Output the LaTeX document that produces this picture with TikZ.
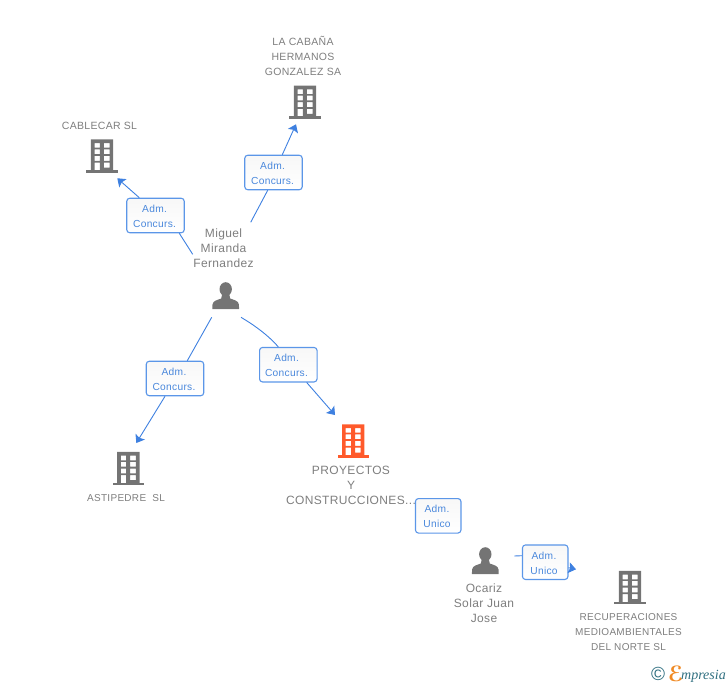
\documentclass[tikz,border=0pt]{standalone}
\usepackage{fontspec}
\setmainfont{Liberation Sans}
\newfontfamily\labfont[LetterSpace=3]{Liberation Sans}
\newfontfamily\logofont{Liberation Serif}
\newfontfamily\logoscript{DejaVu Sans}
\usetikzlibrary{arrows.meta}
\definecolor{lineblue}{HTML}{3E80E0}
\definecolor{boxblue}{HTML}{5B96E8}
\definecolor{txtblue}{HTML}{4A88DC}
\definecolor{lblgrey}{HTML}{7E7E7E}
\definecolor{icongrey}{HTML}{747474}
\definecolor{iconorange}{HTML}{FF5A2B}
\definecolor{logoteal}{HTML}{2F6F80}
\definecolor{logoorange}{HTML}{F08A24}
\tikzset{
  x=1pt,y=-1pt,
  role/.style={draw=boxblue,line width=1.1pt,rounded corners=3pt,top color=black!3,bottom color=white,
    minimum height=34.5pt,inner sep=0pt,text=txtblue,align=center,
    font=\labfont\fontsize{10.2}{15}\selectfont},
  rolewide/.style={role,minimum width=57.5pt},
  rolenarrow/.style={role,minimum width=45.5pt},
  rolelabel/.style={inner sep=0pt,text=txtblue,align=center,
    font=\labfont\fontsize{10.2}{15}\selectfont},
  lnk/.style={draw=lineblue,line width=0.9pt},
  lnkarrow/.style={lnk,-{Stealth[length=7.5pt,width=11pt,inset=1.5pt]}},
  bigname/.style={text=lblgrey,align=center,inner sep=0pt,
    font=\labfont\fontsize{12}{15}\selectfont},
  smallname/.style={text=lblgrey,align=center,inner sep=0pt,
    font=\labfont\fontsize{10.5}{15}\selectfont},
  tinyname/.style={text=lblgrey,align=center,inner sep=0pt,
    font=\labfont\fontsize{10}{15}\selectfont},
  pics/building/.style={code={
    \fill[#1,even odd rule]
      (-11.2,-2) rectangle (11.2,-33.4)
      (-7.5,-29.6) rectangle (-2.1,-25)
      (1.9,-29.6) rectangle (7.5,-25)
      (-7.5,-23.4) rectangle (-2.1,-18.6)
      (1.9,-23.4) rectangle (7.5,-18.6)
      (-7.5,-16.8) rectangle (-2.1,-11.9)
      (1.9,-16.8) rectangle (7.5,-11.9)
      (-7.5,-10.1) rectangle (-2.1,-2)
      (1.9,-10.1) rectangle (7.5,-5.2);
    \fill[#1] (-15.7,-2.7) rectangle (15.7,0);
  }},
  pics/person/.style={code={
    \fill[icongrey] (0,-19.8) circle[x radius=6.2,y radius=7];
    \fill[icongrey] (-13.4,0) -- (-13.2,-4.5) .. controls (-12.8,-8.5) and (-8,-9) .. (-4.5,-10.5)
      -- (-3.5,-15) -- (3.5,-15) -- (4.5,-10.5) .. controls (8,-9) and (12.8,-8.5) .. (13.2,-4.5) -- (13.4,0) -- cycle;
  }}
}
\begin{document}
\begin{tikzpicture}
\useasboundingbox (0,0) rectangle (728,685);
% icons
\pic at (102,172.7) {building=icongrey};
\pic at (305,119) {building=icongrey};
\pic at (128.3,485.3) {building=icongrey};
\pic at (353.2,457.7) {building=iconorange};
\pic at (630,604.3) {building=icongrey};
\pic at (225.7,309) {person};
\pic at (485.3,574) {person};
% free ends of connectors
\coordinate (tipcable) at (117.3,178.3);
\coordinate (tipcabana) at (296,124.3);
\coordinate (tipastip) at (136.3,443);
\coordinate (tipproy) at (335,415);
\coordinate (tiprecup) at (576,569.3);
\coordinate (fromcable) at (192.7,254.3);
\coordinate (fromcabana) at (250.7,222.3);
\coordinate (fromastip) at (211.7,317.3);
\coordinate (fromproy) at (241,317.3);
\coordinate (fromocariz) at (514.3,556);
% labels
\node[smallname] (cabana) at (303,56) {LA CABAÑA\\HERMANOS\\GONZALEZ SA};
\node[smallname] (cablecar) at (99.5,125.5) {CABLECAR SL};
\node[bigname] (miguel) at (223.5,248) {Miguel\\Miranda\\Fernandez};
\node[tinyname] (astipedre) at (126,498.5) {ASTIPEDRE\ \ SL};
\node[bigname] (proyectos) at (351,485) {PROYECTOS\\Y\\CONSTRUCCIONES...};
\node[bigname] (ocariz) at (484,603) {Ocariz\\Solar Juan\\Jose};
\node[tinyname] (recup) at (628.5,632) {RECUPERACIONES\\MEDIOAMBIENTALES\\DEL NORTE SL};
% role boxes
\node[rolewide] (r1) at (155.5,215.5) {};
\node[rolewide] (r2) at (273.5,172.5) {};
\node[rolewide] (r3) at (175,378.5) {};
\node[rolewide] (r4) at (288.3,364.7) {};
\node[rolenarrow] (r5) at (438.2,515.8) {};
\node[rolenarrow] (r6) at (545.2,562.2) {};
\node[rolelabel] (t1) at (154.6,216.3) {Adm.\\Concurs.};
\node[rolelabel] (t2) at (272.6,173.3) {Adm.\\Concurs.};
\node[rolelabel] (t3) at (174,379.3) {Adm.\\Concurs.};
\node[rolelabel] (t4) at (286.5,365.5) {Adm.\\Concurs.};
\node[rolelabel] (t5) at (437,516.6) {Adm.\\Unico};
\node[rolelabel] (t6) at (544,563) {Adm.\\Unico};
% connectors
\draw[lnk] (fromcable) -- ([xshift=23.8pt]r1.south);
\draw[lnkarrow] ([xshift=-16.2pt]r1.north) -- (tipcable);
\draw[lnk] (fromcabana) -- ([xshift=-5.8pt]r2.south);
\draw[lnkarrow] ([xshift=8.8pt]r2.north) -- (tipcabana);
\draw[lnk] (fromastip) -- ([xshift=12.3pt]r3.north);
\draw[lnkarrow] ([xshift=-10pt]r3.south) -- (tipastip);
\draw[lnk] (fromproy) .. controls (254,325) and (268,335) .. ([xshift=-10pt]r4.north);
\draw[lnkarrow] ([xshift=18.4pt]r4.south) -- (tipproy);
\draw[lnk] (fromocariz) -- ([yshift=6.5pt]r6.west);
\draw[lnkarrow] ([yshift=-5.5pt]r6.east) -- (tiprecup);
% logo
\node[inner sep=0pt,text=logoteal,font=\fontsize{19}{19}\selectfont] (copy) at (658,673.5) {©};
\node[inner sep=0pt,anchor=base west,text=logoorange,font=\logoscript\bfseries\fontsize{21}{21}\selectfont] (logoe) at (668,681) {ℰ};
\node[inner sep=0pt,anchor=base west,text=logoteal,font=\logofont\itshape\fontsize{14}{14}\selectfont] (logotxt) at (681,679) {mpresia};
\end{tikzpicture}
\end{document}
